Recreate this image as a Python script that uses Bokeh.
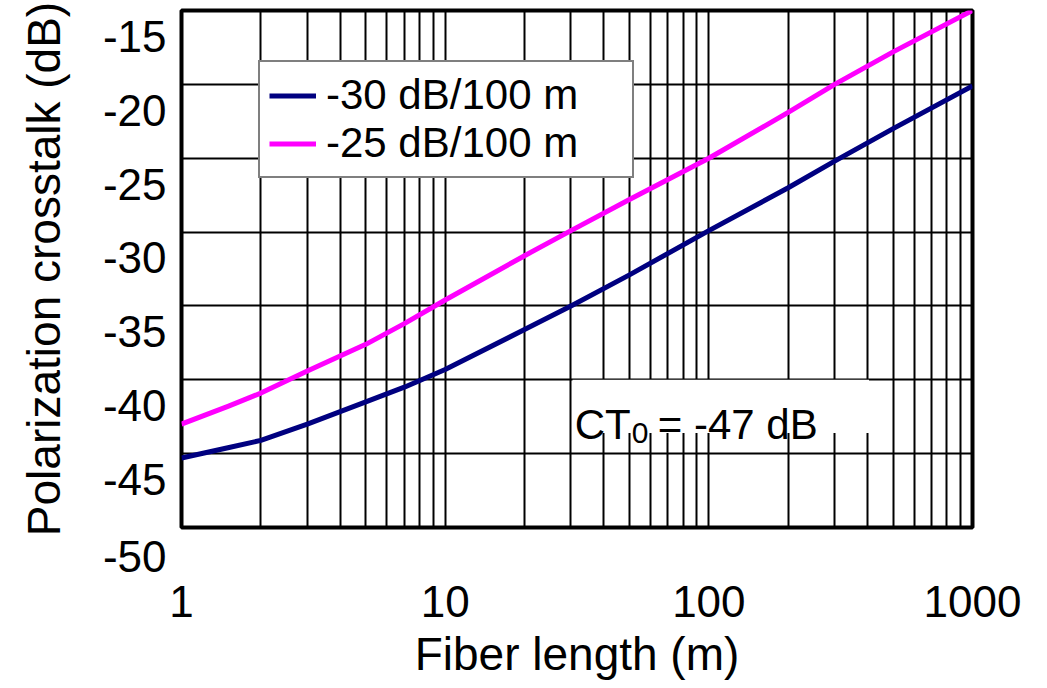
from bokeh.plotting import figure
from bokeh.models import (Range1d, FixedTicker, NumeralTickFormatter, Legend, LegendItem,
                          BoxAnnotation, Label, LinearAxis)
from bokeh.embed import file_html
from bokeh.resources import INLINE

# ---- data ----
fiber_length = [1, 1.5, 2, 3, 5, 7, 10, 20, 30, 50, 100, 200, 300, 500, 1000]
ct_30 = [-45.3, -44.6, -44.1, -43.0, -41.5, -40.5, -39.3, -36.6, -35.0, -32.9,
         -29.9, -27.0, -25.2, -23.0, -20.1]
ct_25 = [-43.0, -41.8, -40.9, -39.4, -37.6, -36.2, -34.6, -31.6, -29.9, -27.8,
         -25.0, -21.9, -20.0, -17.8, -15.0]
series_names = ["-30 dB/100 m", "-25 dB/100 m"]
x_major_ticks = [1, 10, 100, 1000]
x_minor_ticks = [2, 3, 4, 5, 6, 7, 8, 9, 20, 30, 40, 50, 60, 70, 80, 90,
                 200, 300, 400, 500, 600, 700, 800, 900]
y_ticks = [-50, -45, -40, -35, -30, -25, -20, -15]
y_tick_labels = ["-50", "-45", "-40", "-35", "-30", "-25", "-20", "-15"]
ct0_text = ["CT", "0", "= -47 dB"]

FONT = "Liberation Sans"
Y_MIN, Y_MAX = -50, -15
LABEL_DROP = 1.75   # the reference prints each y label just below its grid line

p = figure(width=1047, height=688, x_axis_type="log",
           x_range=Range1d(1, 1000), y_range=Range1d(Y_MIN, Y_MAX),
           output_backend="svg", toolbar_location=None,
           min_border_left=181, min_border_right=75,
           min_border_top=10, min_border_bottom=161)

p.background_fill_color = "white"
p.border_fill_color = "white"
p.outline_line_color = "black"
p.outline_line_width = 4

# grid ticks come from the (hidden) primary y axis
p.yaxis.ticker = FixedTicker(ticks=y_ticks)
p.yaxis.visible = False

# visible y axis carrying the labels, placed like in the reference
label_ticks, label_over = [], {}
for t, s in zip(y_ticks, y_tick_labels):
    if t - LABEL_DROP >= Y_MIN:
        lt = round(t - LABEL_DROP, 3)
        label_over[lt] = s
    else:                      # bottom label: push it below its line with an empty first line
        lt = t
        label_over[lt] = "\n" + s
    label_ticks.append(lt)

yax = LinearAxis(ticker=FixedTicker(ticks=label_ticks),
                 major_label_overrides=label_over,
                 axis_label="Polarization crosstalk (dB)")
p.add_layout(yax, "left")

p.xaxis.ticker = FixedTicker(ticks=x_major_ticks, minor_ticks=x_minor_ticks)
p.xaxis.formatter = NumeralTickFormatter(format="0")
p.xaxis.axis_label = "Fiber length (m)"

for ax in (p.xaxis[0], yax):
    ax.axis_line_color = None
    ax.major_tick_line_color = None
    ax.minor_tick_line_color = None
    ax.major_tick_out = 0
    ax.major_tick_in = 0
    ax.minor_tick_out = 0
    ax.minor_tick_in = 0
    ax.major_label_text_font = FONT
    ax.major_label_text_font_size = "44px"
    ax.major_label_text_color = "black"
    ax.axis_label_text_font = FONT
    ax.axis_label_text_font_size = "46px"
    ax.axis_label_text_font_style = "normal"
    ax.axis_label_text_color = "black"

p.xaxis.major_label_standoff = 58
p.xaxis.axis_label_standoff = 8
yax.major_label_standoff = 15
yax.axis_label_standoff = 30

# grid
p.xgrid.grid_line_color = "black"
p.xgrid.grid_line_width = 2
p.xgrid.minor_grid_line_color = "black"
p.xgrid.minor_grid_line_width = 2
p.ygrid.grid_line_color = "black"
p.ygrid.grid_line_width = 2

# curves
r30 = p.line(fiber_length, ct_30, line_color="#000080", line_width=5, line_join="round")
r25 = p.line(fiber_length, ct_25, line_color="#FF00FF", line_width=5, line_join="round")

legend = Legend(items=[LegendItem(label=series_names[0], renderers=[r30]),
                       LegendItem(label=series_names[1], renderers=[r25])],
                location=(77, 349), orientation="vertical",
                label_text_font=FONT, label_text_font_size="42px",
                label_text_color="black",
                glyph_width=47, glyph_height=47, label_height=47, label_width=297,
                label_standoff=10, spacing=0, padding=9, margin=0,
                border_line_color="black", border_line_width=2,
                background_fill_color="white", background_fill_alpha=1.0)
p.add_layout(legend, "center")

# CT0 annotation (white box hides the grid behind it)
p.add_layout(BoxAnnotation(left=30.4, right=405, bottom=-43.6, top=-40.0,
                           fill_color="white", fill_alpha=1.0,
                           line_color=None))
p.add_layout(Label(x=31, y=-43.0, text=ct0_text[0], text_font=FONT,
                   text_font_size="42px", text_color="black",
                   text_baseline="alphabetic"))
p.add_layout(Label(x=31, y=-43.0, x_offset=57, y_offset=-9, text=ct0_text[1],
                   text_font=FONT, text_font_size="30px", text_color="black",
                   text_baseline="alphabetic"))
p.add_layout(Label(x=31, y=-43.0, x_offset=83, text=ct0_text[2], text_font=FONT,
                   text_font_size="42px", text_color="black",
                   text_baseline="alphabetic"))

open("out.html", "w").write(file_html(p, INLINE))
